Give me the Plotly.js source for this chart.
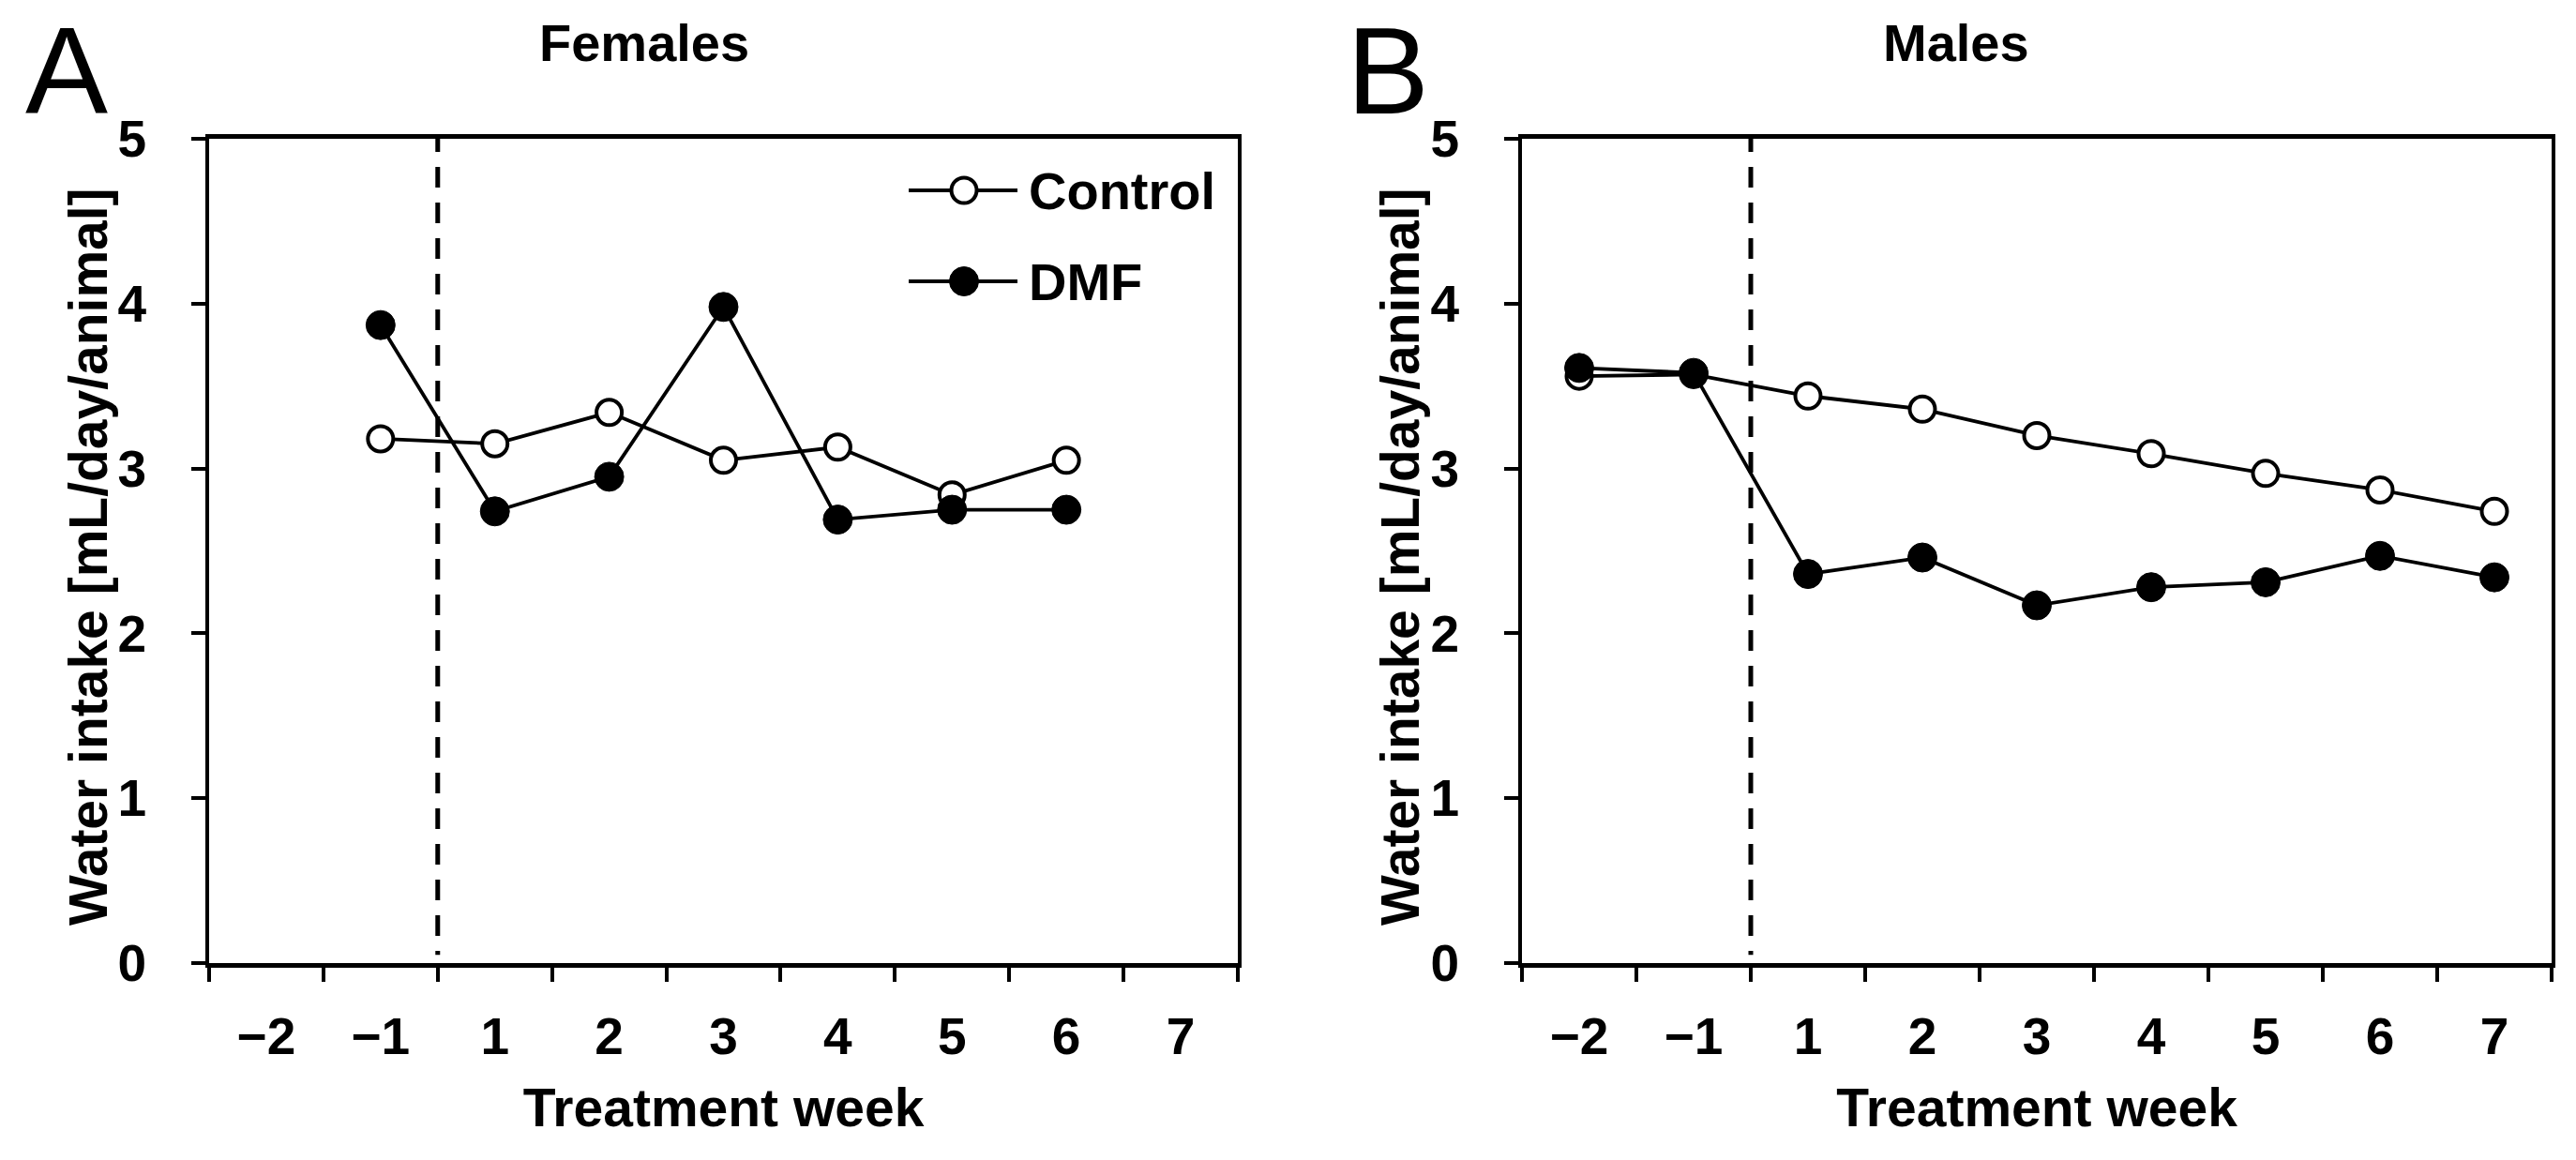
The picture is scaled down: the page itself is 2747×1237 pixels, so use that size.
<!DOCTYPE html>
<html>
<head>
<meta charset="utf-8">
<script src="https://cdn.plot.ly/plotly-3.0.1.min.js"></script>
<style>
html, body { margin: 0; padding: 0; background: #fff; }
#chart { width: 2747px; height: 1237px; }
</style>
</head>
<body>
<div id="chart"></div>
<script>
// ---- data ----
const weeks = ['−2', '−1', '1', '2', '3', '4', '5', '6', '7'];
const femaleWeeks = ['−1', '1', '2', '3', '4', '5', '6'];
const femaleControl = [3.18, 3.15, 3.34, 3.05, 3.13, 2.84, 3.05];
const femaleDMF = [3.87, 2.74, 2.95, 3.98, 2.69, 2.75, 2.75];
const maleWeeks = ['−2', '−1', '1', '2', '3', '4', '5', '6', '7'];
const maleControl = [3.56, 3.57, 3.44, 3.36, 3.20, 3.09, 2.97, 2.87, 2.74];
const maleDMF = [3.61, 3.58, 2.36, 2.46, 2.17, 2.28, 2.31, 2.47, 2.34];
const seriesNames = ['Control', 'DMF'];
const panelTitles = ['Females', 'Males'];
const panelLetters = ['A', 'B'];
const yTickVals = [0, 1, 2, 3, 4, 5];
const xAxisTitle = 'Treatment week';
const yAxisTitle = 'Water intake [mL/day/animal]';

// ---- styling ----
const W = 2747, H = 1237;
const FONT = 'Liberation Sans, Arial, Helvetica, sans-serif';
const px = v => v / W;
const py = v => 1 - v / H;

const seriesStyle = {
  Control: { marker: { symbol: 'circle', size: 27, color: '#ffffff', line: { color: '#000', width: 4 } } },
  DMF: { marker: { symbol: 'circle', size: 31, color: '#000000', line: { color: '#000', width: 1 } } }
};

function trace(name, x, y, xa, ya) {
  return {
    type: 'scatter', mode: 'lines+markers', name: name,
    x: x, y: y, xaxis: xa, yaxis: ya, showlegend: false,
    line: { color: '#000', width: 3.8 },
    marker: seriesStyle[name].marker,
    cliponaxis: false
  };
}

const data = [
  trace('Control', femaleWeeks, femaleControl, 'x', 'y'),
  trace('DMF', femaleWeeks, femaleDMF, 'x', 'y'),
  trace('Control', maleWeeks, maleControl, 'x2', 'y2'),
  trace('DMF', maleWeeks, maleDMF, 'x2', 'y2')
];

const yDomain = [py(1027), py(148)];
const xDomains = [[px(223), px(1320)], [px(1623), px(2721)]];

function xAxis(domain, anchor) {
  return {
    domain: domain, anchor: anchor,
    type: 'category', categoryorder: 'array', categoryarray: weeks,
    range: [-0.5, weeks.length - 0.5],
    tickson: 'boundaries', ticks: 'outside', ticklen: 15, tickwidth: 4, tickcolor: '#000',
    showline: true, linewidth: 5, linecolor: '#000', mirror: true,
    showgrid: false, zeroline: false,
    tickfont: { family: FONT, size: 55, weight: 'bold', color: '#000' },
    ticklabelstandoff: 26,
    title: { text: xAxisTitle, font: { family: FONT, size: 57, weight: 'bold', color: '#000' }, standoff: 28 },
    fixedrange: true
  };
}
function yAxis(anchor) {
  return {
    domain: yDomain, anchor: anchor,
    range: [0, 5], tickmode: 'array', tickvals: yTickVals,
    ticks: 'outside', ticklen: 15, tickwidth: 4, tickcolor: '#000',
    showline: true, linewidth: 4, linecolor: '#000', mirror: true,
    showgrid: false, zeroline: false,
    tickfont: { family: FONT, size: 55, weight: 'bold', color: '#000' },
    ticklabelstandoff: 37,
    fixedrange: true
  };
}

const dashLine = { color: '#000', width: 5, dash: '22px,16px' };
const shapes = [
  { type: 'line', xref: 'x', yref: 'y', x0: 1.5, x1: 1.5, y0: 5.045, y1: 0.05, line: dashLine },
  { type: 'line', xref: 'x2', yref: 'y2', x0: 1.5, x1: 1.5, y0: 5.045, y1: 0.05, line: dashLine }
];

// custom legend (panel A, upper right)
const annotations = [];
const legendRowsY = [203, 300];
seriesNames.forEach((name, i) => {
  const cy = legendRowsY[i];
  const m = seriesStyle[name].marker;
  shapes.push({ type: 'line', xref: 'paper', yref: 'paper', x0: px(969), x1: px(1085), y0: py(cy), y1: py(cy), line: { color: '#000', width: 3.8 } });
  const r = m.size / 2;
  shapes.push({ type: 'circle', xref: 'paper', yref: 'paper', x0: px(1028 - r), x1: px(1028 + r), y0: py(cy + r), y1: py(cy - r), fillcolor: m.color, line: { color: '#000', width: m.line.width } });
  annotations.push({ xref: 'paper', yref: 'paper', x: px(1095), y: py(cy), xanchor: 'left', yanchor: 'middle', showarrow: false, text: name, font: { family: FONT, size: 56, weight: 'bold', color: '#000' } });
});

// panel titles, letters and y axis titles
const titleX = [687, 2086];
const letterX = [25, 1434];
const yTitleX = [94, 1493];
panelTitles.forEach((t, i) => {
  annotations.push({ xref: 'paper', yref: 'paper', x: px(titleX[i]), y: py(45), xanchor: 'center', yanchor: 'middle', showarrow: false, text: t, font: { family: FONT, size: 56, weight: 'bold', color: '#000' } });
  annotations.push({ xref: 'paper', yref: 'paper', x: px(letterX[i]), y: py(76), xanchor: 'left', yanchor: 'middle', showarrow: false, text: panelLetters[i], font: { family: FONT, size: 132, color: '#000' } });
  annotations.push({ xref: 'paper', yref: 'paper', x: px(yTitleX[i]), y: py(594), xanchor: 'center', yanchor: 'middle', textangle: -90, showarrow: false, text: yAxisTitle, font: { family: FONT, size: 57, weight: 'bold', color: '#000' } });
});

const layout = {
  width: W, height: H,
  margin: { l: 0, r: 0, t: 0, b: 0 },
  paper_bgcolor: '#fff', plot_bgcolor: '#fff',
  showlegend: false,
  xaxis: xAxis(xDomains[0], 'y'),
  yaxis: yAxis('x'),
  xaxis2: xAxis(xDomains[1], 'y2'),
  yaxis2: yAxis('x2'),
  shapes: shapes,
  annotations: annotations
};

Plotly.newPlot('chart', data, layout, { displayModeBar: false, staticPlot: true });
</script>
</body>
</html>
